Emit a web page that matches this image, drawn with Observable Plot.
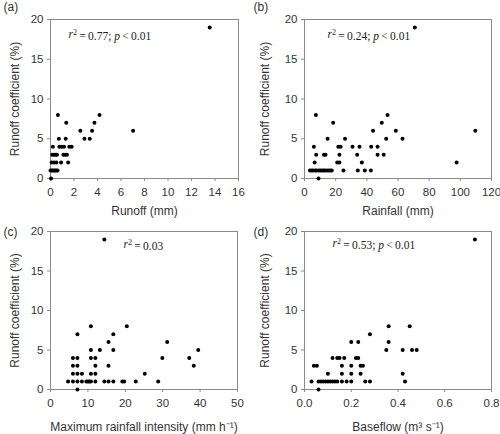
<!DOCTYPE html>
<html><head><meta charset="utf-8">
<script src="https://cdn.jsdelivr.net/npm/d3@7"></script>
<script src="https://cdn.jsdelivr.net/npm/@observablehq/plot@0.6"></script>
<style>
body{margin:0;background:#fff;}
#wrap{position:relative;width:500px;height:434px;}
#wrap svg{position:absolute;overflow:visible;}
</style></head><body><div id="wrap"></div>
<script>
const yLabel = "Runoff coefficient (%)";
const yTicks = [0, 5, 10, 15, 20];

// Panel (a): runoff (mm) vs runoff coefficient (%)
const aRunoff = [13.55, 0.63, 4.17, 1.34, 3.74, 2.54, 3.54, 7.03, 0.71, 1.29, 2.89, 3.34,
  0.2, 0.75, 0.95, 1.15, 1.6, 1.8, 0.15, 0.3, 0.45, 0.55, 1.1, 1.25, 1.4,
  0.1, 0.3, 0.5, 0.9, 1.5, 0.0, 0.1, 0.2, 0.3, 0.4, 0.5, 0.6, 0.05];
const aCoef = [19, 8, 8, 7, 7, 6, 6, 6, 5, 5, 5, 5,
  4, 4, 4, 4, 4, 4, 3, 3, 3, 3, 3, 3, 3,
  2, 2, 2, 2, 2, 1, 1, 1, 1, 1, 1, 1, 0];

// Panel (b): rainfall (mm)
const bRain = [70.8, 7.3, 53.3, 18.4, 49.6, 44, 58.6, 109.6, 14.8, 26, 52.4, 62.9,
  6, 21.7, 23.2, 30.8, 35.3, 42.8, 46.9, 7.5, 12.5, 13.5, 22.4, 33.8, 46.9, 50.8,
  6.5, 21, 22.4, 36.8, 97.6,
  3.5, 4.6, 5.4, 6.8, 7.7, 9.0, 10.1, 11.2, 12.3, 13.1, 14.4, 15.5, 16.6, 17.5, 25, 34.2, 38.7, 42.6, 9];
const bCoef = [19, 8, 8, 7, 7, 6, 6, 6, 5, 5, 5, 5,
  4, 4, 4, 4, 4, 4, 4, 3, 3, 3, 3, 3, 3, 3,
  2, 2, 2, 2, 2,
  1, 1, 1, 1, 1, 1, 1, 1, 1, 1, 1, 1, 1, 1, 1, 1, 1, 1, 0];

// Panel (c): maximum rainfall intensity (mm h-1)
const cInt = [14.4, 10.8, 20.4, 7.2, 16.8, 15.5, 31.2, 10.8, 13.2, 16.8, 39.5,
  6, 7.2, 10.8, 12, 29.9, 37.1, 6, 7.2, 12, 15.5, 38.3,
  6, 7.2, 8.4, 10.8, 12, 25.2,
  4.7, 6, 7.2, 8.4, 9.6, 10, 10.4, 10.8, 12, 14.4, 15.5, 16.8, 19.2, 19.7, 22.8, 28.8, 7.2];
const cCoef = [19, 8, 8, 7, 7, 6, 6, 5, 5, 5, 5,
  4, 4, 4, 4, 4, 4, 3, 3, 3, 3, 3,
  2, 2, 2, 2, 2, 2,
  1, 1, 1, 1, 1, 1, 1, 1, 1, 1, 1, 1, 1, 1, 1, 1, 0];

// Panel (d): baseflow (m3 s-1)
const dBase = [0.729, 0.36, 0.45, 0.28, 0.2, 0.23, 0.36, 0.35, 0.42, 0.46, 0.48,
  0.12, 0.14, 0.15, 0.17, 0.22, 0.23, 0.04, 0.053, 0.16, 0.2, 0.24, 0.25,
  0.1, 0.16, 0.2, 0.24, 0.42,
  0.03, 0.06, 0.07, 0.08, 0.09, 0.1, 0.11, 0.12, 0.13, 0.14, 0.16, 0.18, 0.2, 0.26, 0.28, 0.43, 0.06];
const dCoef = [19, 8, 8, 7, 6, 6, 6, 5, 5, 5, 5,
  4, 4, 4, 4, 4, 4, 3, 3, 3, 3, 3, 3,
  2, 2, 2, 2, 2,
  1, 1, 1, 1, 1, 1, 1, 1, 1, 1, 1, 1, 1, 1, 1, 1, 0];

const tags = ["(a)", "(b)", "(c)", "(d)"];
const xLabels = ["Runoff (mm)", "Rainfall (mm)", "Maximum rainfall intensity (mm h\u207B\u00B9)", "Baseflow (m\u00B3 s\u207B\u00B9)"];
const r2Values = ["0.77", "0.24", "0.03", "0.53"];
const pValues = ["< 0.01", "< 0.01", null, "< 0.01"];
const xTickSets = [d3.range(0, 17, 2), d3.range(0, 121, 20), d3.range(0, 51, 10), [0, 0.2, 0.4, 0.6, 0.8]];

const panels = [
  {x: aRunoff, y: aCoef, dom: [0, 16], fmt: d => d, left: 0, top: 0, m: [19, 12, 39, 50], ydx: -35, xdy: 32.5, tag: [-47, -12], ann: [18, 15]},
  {x: bRain, y: bCoef, dom: [0, 120], fmt: d => d, left: 250, top: 0, m: [19, 9, 39, 54], ydx: -39, xdy: 32.5, tag: [-51, -12], ann: [23, 15]},
  {x: cInt, y: cCoef, dom: [0, 50], fmt: d => d, left: 0, top: 217, m: [14, 13, 45, 50], ydx: -35, xdy: 37.5, tag: [-47, 1], ann: [73, 13]},
  {x: dBase, y: dCoef, dom: [0, 0.8], fmt: d3.format(".1f"), left: 250, top: 217, m: [14, 9, 45, 54], ydx: -39, xdy: 37.5, tag: [-51, 1], ann: [28, 12]}
];

const wrap = document.getElementById("wrap");
const grey = "#8a8a8a";
const ink = "#333";

panels.forEach((p, i) => {
  const annText = "r2 = " + r2Values[i] + (pValues[i] ? "; p " + pValues[i] : "");
  const svg = Plot.plot({
    width: 250, height: 217,
    marginTop: p.m[0], marginRight: p.m[1], marginBottom: p.m[2], marginLeft: p.m[3],
    style: {fontFamily: "'Liberation Sans', Arial, sans-serif", fontSize: "11px", color: ink, background: "transparent", overflow: "visible"},
    x: {domain: p.dom},
    y: {domain: [0, 20]},
    marks: [
      Plot.frame({stroke: grey}),
      Plot.axisX({ticks: xTickSets[i], tickFormat: p.fmt, tickSize: 3, tickPadding: 6, stroke: grey, fill: ink, fontSize: 11.5, label: null}),
      Plot.axisY({ticks: yTicks, tickSize: 3, tickPadding: 4, stroke: grey, fill: ink, fontSize: 11.5, label: null}),
      Plot.dot(p.x, {x: p.x, y: p.y, r: 2, fill: "#000", stroke: null}),
      Plot.text([xLabels[i]], {text: d => d, frameAnchor: "bottom", textAnchor: "middle", lineAnchor: "middle", dy: p.xdy, fontSize: 12, fill: ink}),
      Plot.text([yLabel], {text: d => d, frameAnchor: "left", textAnchor: "middle", lineAnchor: "middle", rotate: -90, dx: p.ydx, fontSize: 12, fill: ink}),
      Plot.text([tags[i]], {text: d => d, frameAnchor: "top-left", textAnchor: "start", lineAnchor: "middle", dx: p.tag[0], dy: p.tag[1], fontSize: 12, fill: ink}),
      Plot.text([annText], {text: d => d, frameAnchor: "top-left", textAnchor: "start", lineAnchor: "middle", dx: p.ann[0], dy: p.ann[1], fontSize: 11.5, fill: "#222", fontFamily: "'Liberation Serif', 'Times New Roman', serif"})
    ]
  });
  svg.style.left = p.left + "px";
  svg.style.top = p.top + "px";
  wrap.appendChild(svg);
  // Typeset annotation: italic r with superscript 2, italic p
  const t = d3.select(svg).selectAll("text").filter(function() { return this.textContent === annText; });
  t.text(null);
  t.append("tspan").attr("font-style", "italic").text("r");
  t.append("tspan").attr("font-size", "8px").attr("dy", "-0.45em").text("2");
  t.append("tspan").attr("dy", "0.45em").text("\u2009=\u2009" + r2Values[i] + (pValues[i] ? "; " : ""));
  if (pValues[i]) {
    t.append("tspan").attr("font-style", "italic").text("p");
    t.append("tspan").text("\u2009" + pValues[i].replace(" ", "\u2009"));
  }
});
</script></body></html>
